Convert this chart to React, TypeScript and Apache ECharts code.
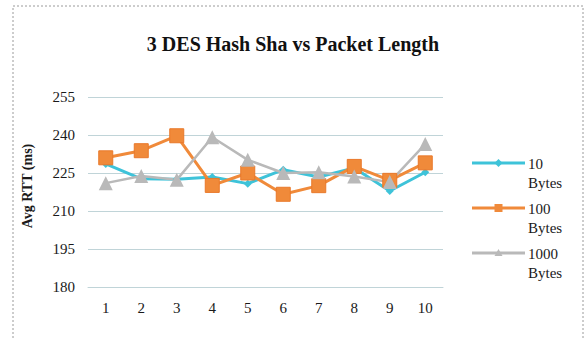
import React, { useEffect, useRef } from "react";
import * as echarts from "echarts";

// Packet index along the x axis
const categories = ["1", "2", "3", "4", "5", "6", "7", "8", "9", "10"];

// Average round-trip time (ms) per packet length
const bytes10 = [228.6, 222.7, 222.5, 223.4, 220.8, 226.3, 223.4, 227.0, 217.9, 225.3];
const bytes100 = [231.0, 233.8, 239.7, 220.1, 225.0, 216.6, 220.0, 227.6, 222.1, 229.0];
const bytes1000 = [221.0, 223.8, 222.3, 239.1, 230.2, 225.0, 225.3, 223.6, 221.4, 236.4];

const seriesNames = ["10 Bytes", "100 Bytes", "1000 Bytes"];
const yTicks = { min: 180, max: 255, interval: 15 };

const SERIF = "'Liberation Serif', 'DejaVu Serif', serif";
const CYAN = "#3ec3d9";
const ORANGE = "#f08a3a";
const GRAY = "#b9b9b9";

function legendItem(y: number, color: string, label: string, marker: any) {
  return {
    type: "group",
    x: 472,
    y,
    children: [
      { type: "line", shape: { x1: 0, y1: 0, x2: 53, y2: 0 }, style: { stroke: color, lineWidth: 3 } },
      marker,
      {
        type: "text",
        x: 56,
        y: -9,
        style: {
          text: label,
          font: `15px ${SERIF}`,
          fill: "#1a1a1a",
          lineHeight: 19,
        },
      },
    ],
  };
}

export default function App() {
  const ref = useRef<HTMLDivElement>(null);

  useEffect(() => {
    if (!ref.current) return;
    const chart = echarts.init(ref.current, null, { renderer: "svg" });
    chart.setOption({
      animation: false,
      backgroundColor: "#ffffff",
      title: {
        text: "3 DES Hash Sha vs Packet Length",
        left: "center",
        top: 29,
        textStyle: { fontFamily: SERIF, fontWeight: "bold", fontSize: 20, color: "#111" },
      },
      grid: { left: 88, right: 143, top: 97, bottom: 51, containLabel: false },
      xAxis: {
        type: "category",
        data: categories,
        boundaryGap: true,
        axisLine: { show: true, lineStyle: { color: "#c0d4d8", width: 1 } },
        axisTick: { show: false },
        axisLabel: { fontFamily: SERIF, fontSize: 15, color: "#1a1a1a", margin: 13 },
      },
      yAxis: {
        type: "value",
        min: yTicks.min,
        max: yTicks.max,
        interval: yTicks.interval,
        name: "Avg RTT (ms)",
        nameLocation: "middle",
        nameGap: 54,
        nameTextStyle: { fontFamily: SERIF, fontWeight: "bold", fontSize: 14, color: "#1a1a1a", padding: [0, 0, 0, 12] },
        axisLine: { show: false },
        axisTick: { show: false },
        axisLabel: { fontFamily: SERIF, fontSize: 15, color: "#1a1a1a", margin: 13 },
        splitLine: { lineStyle: { color: "#c0d4d8", width: 1 } },
      },
      series: [
        {
          name: seriesNames[0],
          type: "line",
          data: bytes10,
          symbol: "diamond",
          symbolSize: 8,
          lineStyle: { color: CYAN, width: 3 },
          itemStyle: { color: CYAN },
        },
        {
          name: seriesNames[1],
          type: "line",
          data: bytes100,
          symbol: "rect",
          symbolSize: 14,
          lineStyle: { color: ORANGE, width: 3 },
          itemStyle: { color: ORANGE, borderColor: "#e9782a", borderWidth: 1 },
        },
        {
          name: seriesNames[2],
          type: "line",
          data: bytes1000,
          symbol: "triangle",
          symbolSize: 14,
          lineStyle: { color: GRAY, width: 2.5 },
          itemStyle: { color: GRAY },
        },
      ],
      graphic: [
        {
          type: "rect",
          shape: { x: 13, y: 6, width: 570, height: 340 },
          style: { fill: "none", stroke: "#9a9a9a", lineWidth: 1, lineDash: [2, 2] },
          silent: true,
        },
        legendItem(163, CYAN, "10\nBytes", {
          type: "polygon",
          shape: { points: [[26.5, -4], [30.5, 0], [26.5, 4], [22.5, 0]] },
          style: { fill: CYAN },
        }),
        legendItem(208, ORANGE, "100\nBytes", {
          type: "rect",
          shape: { x: 22.5, y: -4, width: 8, height: 8 },
          style: { fill: ORANGE },
        }),
        legendItem(253, GRAY, "1000\nBytes", {
          type: "polygon",
          shape: { points: [[26.5, -4], [30.5, 3], [22.5, 3]] },
          style: { fill: GRAY },
        }),
      ],
    });
    return () => chart.dispose();
  }, []);

  return <div ref={ref} style={{ width: 586, height: 338, position: "absolute", left: 0, top: 0 }} />;
}
